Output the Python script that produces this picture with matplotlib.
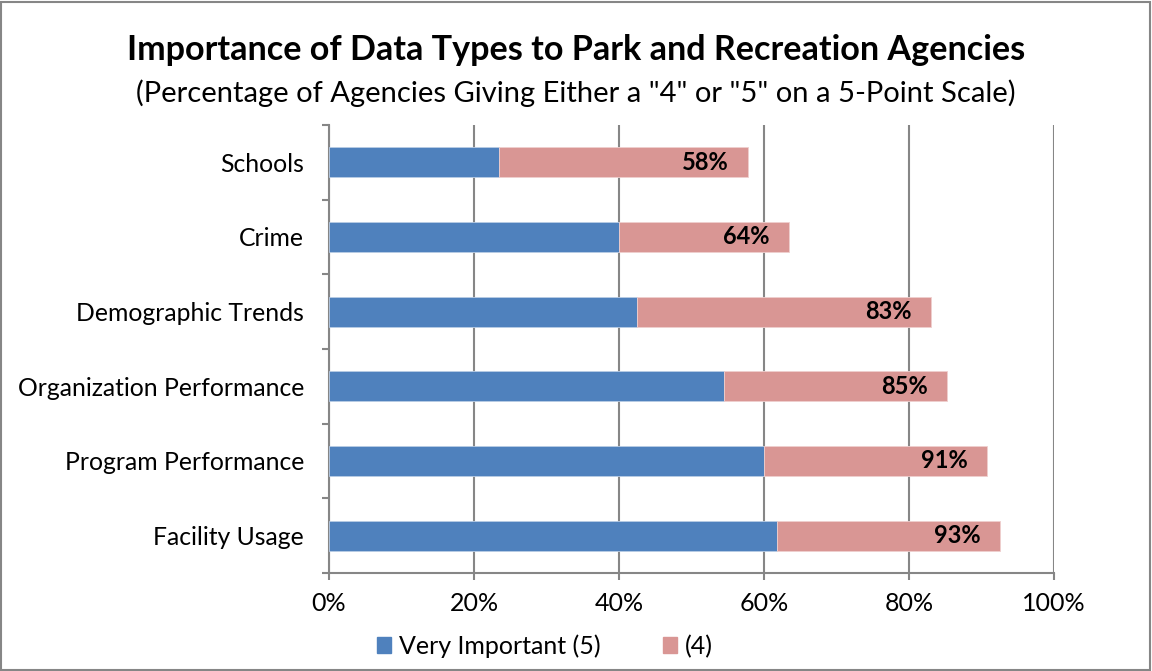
import matplotlib
matplotlib.use("Agg")
import matplotlib.pyplot as plt
from matplotlib.patches import Rectangle, Patch
import numpy as np

categories = ["Schools", "Crime", "Demographic Trends", "Organization Performance",
              "Program Performance", "Facility Usage"]
very_important = [23.5, 40.0, 42.5, 54.5, 60.0, 61.8]
four = [34.3, 23.4, 40.6, 30.8, 30.8, 30.8]
total_labels = ["58%", "64%", "83%", "85%", "91%", "93%"]
xticks = [0, 20, 40, 60, 80, 100]
xtick_labels = ["0%", "20%", "40%", "60%", "80%", "100%"]

plt.rcParams['font.family'] = ['Lato', 'DejaVu Sans']

BLUE = "#4F81BD"
PINK = "#D99694"
GRID = "#868686"

fig = plt.figure(figsize=(11.52, 6.71), dpi=100)
ax = fig.add_axes([329/1152, 1-573/671, (1054-329)/1152, (573-125)/671])

y = np.arange(len(categories))
ax.barh(y, very_important, height=0.4, color=BLUE, edgecolor="#B9CDE5", linewidth=0.6, zorder=3)
totals = np.array(very_important) + np.array(four)
ax.barh(y, four, left=very_important, height=0.4, color=PINK, edgecolor="#EFCFCE", linewidth=0.6, zorder=3)

for yi, t, lab in zip(y, totals, total_labels):
    ax.text(t - 2.7, yi, lab, ha='right', va='center', fontsize=17, fontweight='bold', zorder=4)

ax.set_xlim(0, 100)
ax.set_ylim(len(categories) - 0.5, -0.5)
ax.set_xticks(xticks)
ax.set_xticklabels(xtick_labels, fontsize=18)
ax.set_yticks(y)
ax.set_yticklabels(categories, fontsize=17.8)
ax.set_yticks(np.arange(-0.5, len(categories), 1), minor=True)

ax.grid(axis='x', color=GRID, linewidth=1.5, zorder=0)
for s in ['top', 'right']:
    ax.spines[s].set_visible(False)
for s in ['left', 'bottom']:
    ax.spines[s].set_color(GRID)
    ax.spines[s].set_linewidth(1.5)

ax.tick_params(axis='y', which='major', length=0, pad=18)
ax.tick_params(axis='y', which='minor', length=5, width=1.5, color=GRID, direction='out')
ax.tick_params(axis='x', which='major', length=5, width=1.5, color=GRID, direction='out', pad=9)

fig.text(0.5, 1-50/671, "Importance of Data Types to Park and Recreation Agencies",
         ha='center', va='center', fontsize=24.6, fontweight='bold')
fig.text(0.5, 1-93/671, '(Percentage of Agencies Giving Either a "4" or "5" on a 5-Point Scale)',
         ha='center', va='center', fontsize=21)

handles = [Patch(facecolor=BLUE, edgecolor=BLUE), Patch(facecolor=PINK, edgecolor=PINK)]
fig.legend(handles, ["Very Important (5)", "(4)"], loc='center',
           bbox_to_anchor=(545/1152, 1-646/671), ncol=2, frameon=False, fontsize=18,
           handlelength=0.56, handleheight=0.56, handletextpad=0.3, columnspacing=2.5)

fig.patches.append(Rectangle((0.001, 0.0015), 0.997, 0.996, transform=fig.transFigure,
                             fill=False, edgecolor=GRID, linewidth=1.5))

fig.savefig("out.png", dpi=100)
